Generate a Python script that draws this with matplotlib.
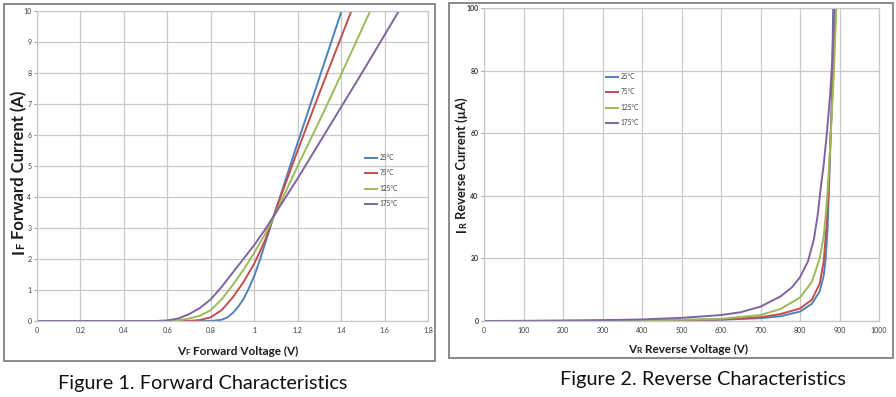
import matplotlib
matplotlib.use("Agg")
import matplotlib.pyplot as plt
from matplotlib.patches import Rectangle
from matplotlib.transforms import IdentityTransform

# ---------------- data ----------------
temps = ["25\u00b0C", "75\u00b0C", "125\u00b0C", "175\u00b0C"]
colors = ["#4f81bd", "#c0504d", "#9bbb59", "#8064a2"]

fwd_v_25 = [0, 0.6, 0.8, 0.85, 0.875, 0.9, 0.925, 0.95, 0.975, 1.0, 1.025, 1.05, 1.1, 1.2, 1.3, 1.402]
fwd_i_25 = [0, 0, 0, 0.04, 0.11, 0.25, 0.45, 0.7, 1.05, 1.45, 1.95, 2.5, 3.6, 5.75, 7.85, 10]
fwd_v_75 = [0, 0.6, 0.7, 0.75, 0.8, 0.85, 0.9, 0.95, 1.0, 1.05, 1.1, 1.2, 1.3, 1.447]
fwd_i_75 = [0, 0, 0.005, 0.03, 0.12, 0.35, 0.75, 1.25, 1.85, 2.6, 3.6, 5.5, 7.35, 10]
fwd_v_125 = [0, 0.6, 0.65, 0.7, 0.75, 0.8, 0.85, 0.9, 0.95, 1.0, 1.05, 1.1, 1.2, 1.3, 1.4, 1.534]
fwd_i_125 = [0, 0, 0.02, 0.08, 0.17, 0.35, 0.7, 1.15, 1.65, 2.2, 2.8, 3.5, 5.0, 6.45, 7.95, 10]
fwd_v_175 = [0, 0.55, 0.6, 0.65, 0.7, 0.75, 0.8, 0.85, 0.9, 0.95, 1.0, 1.05, 1.1, 1.2, 1.3, 1.4, 1.5, 1.666]
fwd_i_175 = [0, 0, 0.02, 0.08, 0.22, 0.42, 0.7, 1.1, 1.55, 2.0, 2.45, 2.95, 3.5, 4.6, 5.75, 6.9, 8.05, 10]

rev_v_25 = [0, 100, 200, 300, 400, 500, 600, 700, 750, 800, 830, 850, 860, 865, 870, 874, 878, 881, 884]
rev_i_25 = [0, 0, 0.05, 0.1, 0.15, 0.25, 0.4, 0.9, 1.5, 3.0, 5.5, 9.5, 14.5, 20, 30, 45, 60, 75, 100]
rev_v_75 = [0, 100, 200, 300, 400, 500, 600, 700, 750, 800, 830, 850, 860, 867, 872, 877, 882, 886, 890]
rev_i_75 = [0, 0, 0.05, 0.1, 0.2, 0.3, 0.5, 1.2, 2.2, 4.0, 6.8, 12, 19, 30, 42, 58, 72, 85, 100]
rev_v_125 = [0, 100, 200, 300, 400, 500, 600, 700, 750, 800, 830, 850, 860, 868, 874, 880, 886, 892]
rev_i_125 = [0, 0, 0.05, 0.1, 0.2, 0.4, 0.7, 1.9, 3.8, 7.5, 12.5, 20, 27, 38, 50, 65, 80, 100]
rev_v_175 = [0, 100, 200, 300, 400, 500, 600, 650, 700, 750, 780, 800, 820, 835, 845, 852, 860, 868, 876, 882, 886]
rev_i_175 = [0, 0.05, 0.1, 0.25, 0.5, 1.0, 1.9, 2.8, 4.6, 7.8, 10.8, 14, 19, 26, 34, 42, 50, 60, 72, 84, 100]

fwd_xticks = [0, 0.2, 0.4, 0.6, 0.8, 1.0, 1.2, 1.4, 1.6, 1.8]
fwd_xlabels = ["0", "0.2", "0.4", "0.6", "0.8", "1", "1.2", "1.4", "1.6", "1.8"]
fwd_yticks = list(range(0, 11))
rev_xticks = list(range(0, 1001, 100))
rev_yticks = [0, 20, 40, 60, 80, 100]

# ---------------- figure ----------------
W, H = 896, 397
fig = plt.figure(figsize=(W / 100, H / 100), dpi=100)
fig.patch.set_facecolor("white")

def fx(px):
    return px / W

def fy(py):
    return 1 - py / H

# panel frames
for (x0, y0, x1, y1) in [(4, 4, 435, 361), (449, 3, 893, 358)]:
    fig.patches.append(Rectangle((fx(x0), fy(y1)), fx(x1 - x0), (y1 - y0) / H,
                                 transform=fig.transFigure, fill=False,
                                 edgecolor="#8a8a8a", linewidth=1.4))

grid_c = "#c8c8c8"
tick_c = "#3a3a3a"
FONT = "Lato"

def style_axes(ax, bold_y=False):
    for s in ax.spines.values():
        s.set_color(grid_c)
        s.set_linewidth(0.9)
    ax.grid(True, color=grid_c, linewidth=0.9)
    ax.set_axisbelow(True)
    ax.tick_params(axis="x", length=0, pad=4, labelsize=5, labelcolor=tick_c)
    ax.tick_params(axis="y", length=2.5, width=0.7, color="#9a9a9a", pad=1.5,
                   labelsize=5, labelcolor=tick_c)
    for lab in ax.get_xticklabels() + ax.get_yticklabels():
        lab.set_family(FONT)
    if bold_y:
        for lab in ax.get_yticklabels():
            lab.set_fontweight("bold")

# left axes
ax1 = fig.add_axes([fx(37), fy(321), fx(428 - 37), (321 - 11) / H])
fwd_v = [fwd_v_25, fwd_v_75, fwd_v_125, fwd_v_175]
fwd_i = [fwd_i_25, fwd_i_75, fwd_i_125, fwd_i_175]
for v, i, c, t in zip(fwd_v, fwd_i, colors, temps):
    ax1.plot(v, i, color=c, lw=1.4, label=t, solid_capstyle="butt")
ax1.set_xlim(0, 1.8)
ax1.set_ylim(0, 10)
ax1.set_xticks(fwd_xticks)
ax1.set_xticklabels(fwd_xlabels)
ax1.set_yticks(fwd_yticks)
style_axes(ax1)

# right axes
ax2 = fig.add_axes([fx(484), fy(321), fx(879 - 484), (321 - 8) / H])
rev_v = [rev_v_25, rev_v_75, rev_v_125, rev_v_175]
rev_i = [rev_i_25, rev_i_75, rev_i_125, rev_i_175]
for v, i, c, t in zip(rev_v, rev_i, colors, temps):
    ax2.plot(v, i, color=c, lw=1.4, label=t, solid_capstyle="butt")
ax2.set_xlim(0, 1000)
ax2.set_ylim(0, 100)
ax2.set_xticks(rev_xticks)
ax2.set_yticks(rev_yticks)
style_axes(ax2, bold_y=True)

# legends
leg_kw = dict(frameon=False, handlelength=2.2, handletextpad=0.15,
              labelspacing=1.3, borderpad=0, borderaxespad=0,
              prop={"family": FONT, "size": 4.7})
l1 = ax1.legend(loc="upper left", bbox_to_anchor=(fx(364), fy(154)),
                bbox_transform=fig.transFigure, **leg_kw)
l2 = ax2.legend(loc="upper left", bbox_to_anchor=(fx(605), fy(73)),
                bbox_transform=fig.transFigure, **leg_kw)
for lg in (l1, l2):
    for txt in lg.get_texts():
        txt.set_color("#404040")

# ---------------- multi-size axis labels ----------------
renderer = fig.canvas.get_renderer()
lab_color = "#1c1c1c"

def piece_label(cx, cy, pieces, rotation=0):
    """pieces: list of (text, size). cx, cy: center in image pixel coords (y from top)."""
    widths = []
    caps = []
    for s, size in pieces:
        t = fig.text(0, 0, s, fontsize=size, fontweight="bold", family=FONT,
                     transform=IdentityTransform())
        bb = t.get_window_extent(renderer=renderer)
        widths.append(bb.width)
        caps.append(size * 100 / 72 * 0.72)
        t.remove()
    total = sum(widths)
    cap = max(caps)
    dx, dy = cx, H - cy
    pos = -total / 2
    for (s, size), w in zip(pieces, widths):
        if rotation == 90:
            x = dx + cap / 2
            y = dy + pos
        else:
            x = dx + pos
            y = dy - cap / 2
        fig.text(x, y, s, fontsize=size, fontweight="bold", family=FONT,
                 color=lab_color, rotation=rotation, rotation_mode="anchor",
                 ha="left", va="baseline", transform=IdentityTransform())
        pos += w

piece_label(18, 172, [("I", 12), ("F", 8), (" Forward Current (A)", 12)], rotation=90)
piece_label(238, 351, [("V", 8.5), ("F", 6), (" Forward Voltage (V)", 8.5)])
piece_label(461.5, 165, [("I", 9.3), ("R", 6.5), (" Reverse Current (\u00b5A)", 9.3)], rotation=90)
piece_label(688, 349, [("V", 8.5), ("R", 6), (" Reverse Voltage (V)", 8.5)])

# captions
fig.text(fx(203), fy(384), "Figure 1. Forward Characteristics", family=FONT,
         fontsize=14.3, color="#101010", ha="center", va="center")
fig.text(fx(703), fy(380), "Figure 2. Reverse Characteristics", family=FONT,
         fontsize=14.3, color="#101010", ha="center", va="center")

fig.savefig("out.png", dpi=100)
